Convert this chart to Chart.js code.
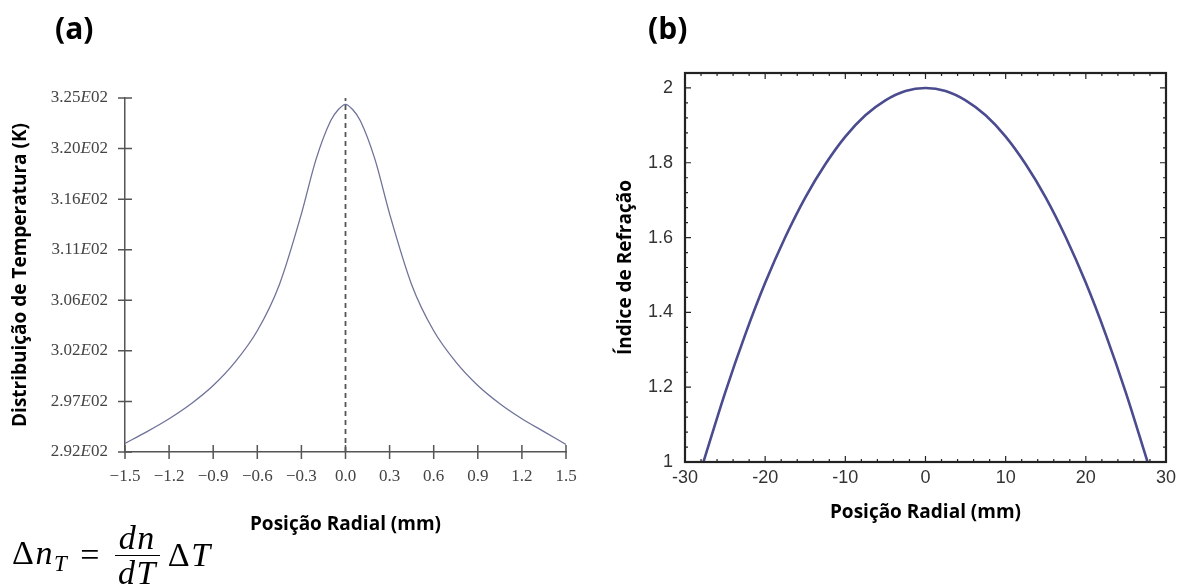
<!DOCTYPE html>
<html>
<head>
<meta charset="utf-8">
<script src="https://cdn.jsdelivr.net/npm/chart.js@4.4.1/dist/chart.umd.min.js"></script>
<style>
  body { margin: 0; background: #fff; }
  #wrap { position: relative; width: 1188px; height: 586px; overflow: hidden; }
  canvas { position: absolute; top: 0; }
  .panel { position: absolute; top: 7px; font: bold 30px "Open Sans", sans-serif; }
  #formula { position: absolute; left: 12px; top: 521px; font-family: "Liberation Serif", serif; font-size: 34px; display: flex; align-items: center; white-space: nowrap; letter-spacing: 1.5px; }
  #formula i { font-style: italic; }
  .frac { display: inline-flex; flex-direction: column; align-items: center; margin: 0 8px 0 14px; line-height: 0.98; }
  .frac .num { border-bottom: 1.4px solid #000; padding: 0 4px 1px; }
  sub { font-size: 23px; vertical-align: -7px; }
</style>
</head>
<body>
<div id="wrap">
  <canvas id="left" width="600" height="586" style="left:0"></canvas>
  <canvas id="right" width="588" height="586" style="left:600px"></canvas>
  <div class="panel" style="left:55px">(a)</div>
  <div class="panel" style="left:648px">(b)</div>
  <div id="formula">
    <span>Δ<i>n</i><sub><i>T</i></sub></span><span style="margin-left:12px">=</span>
    <span class="frac"><span class="num"><i>dn</i></span><span><i>dT</i></span></span>
    <span>Δ<i>T</i></span>
  </div>
</div>
<script>
// (a) temperature distribution
const tempX = [-1.5, -1.35, -1.2, -1.05, -0.9, -0.75, -0.6, -0.45, -0.3, -0.2, -0.1, -0.05, 0,
               0.05, 0.1, 0.2, 0.3, 0.45, 0.6, 0.75, 0.9, 1.05, 1.2, 1.35, 1.5];
const tempY = [292.8, 293.9, 295.1, 296.5, 298.2, 300.4, 303.3, 307.6, 314.2, 319.3, 322.9, 323.9, 324.4,
               323.9, 322.9, 319.3, 314.2, 307.6, 303.3, 300.4, 298.2, 296.5, 295.1, 293.9, 292.7];
const tempXTicks = [-1.5, -1.2, -0.9, -0.6, -0.3, 0, 0.3, 0.6, 0.9, 1.2, 1.5];
const tempYTickLabels = ["2.92E02", "2.97E02", "3.02E02", "3.06E02", "3.11E02", "3.16E02", "3.20E02", "3.25E02"];
const tempMin = 292, tempMax = 325;

// (b) refractive index
const radX = [-27.7, -25, -22.5, -20, -17.5, -15, -12.5, -10, -7.5, -5, -2.5, 0,
              2.5, 5, 7.5, 10, 12.5, 15, 17.5, 20, 22.5, 25, 27.7];
const indexY = [1.0, 1.185, 1.34, 1.479, 1.601, 1.707, 1.796, 1.87, 1.927, 1.967, 1.992, 2.0,
                1.992, 1.967, 1.927, 1.87, 1.796, 1.707, 1.601, 1.479, 1.34, 1.185, 1.0];
const radXTicks = [-30, -20, -10, 0, 10, 20, 30];
const indexYTicks = [1, 1.2, 1.4, 1.6, 1.8, 2];

const titleFont = { family: "'Open Sans', sans-serif", size: 19, weight: "bold" };

// crossing tick marks + italic E labels for chart (a)
const leftDeco = {
  id: "leftDeco",
  afterDraw(chart) {
    const { ctx, chartArea: a, scales: { x, y } } = chart;
    ctx.save();
    ctx.strokeStyle = "#555";
    ctx.lineWidth = 1.5;
    ctx.beginPath();
    x.ticks.forEach((t) => {
      const px = x.getPixelForValue(t.value);
      ctx.moveTo(px, a.bottom - 7);
      ctx.lineTo(px, a.bottom + 7);
    });
    y.ticks.forEach((t) => {
      const py = y.getPixelForValue(t.value);
      ctx.moveTo(a.left - 7, py);
      ctx.lineTo(a.left + 7, py);
    });
    ctx.stroke();
    // y labels: 3.25E02 with italic E
    ctx.fillStyle = "#444";
    ctx.textBaseline = "middle";
    const fam = "'Liberation Serif', serif";
    y.ticks.forEach((t, i) => {
      const lab = tempYTickLabels[i];
      const parts = [[lab.slice(0, 4), "17px " + fam], ["E", "italic 17px " + fam], [lab.slice(5), "17px " + fam]];
      let w = 0;
      parts.forEach((p) => { ctx.font = p[1]; w += ctx.measureText(p[0]).width; });
      let cx = a.left - 17 - w;
      const py = y.getPixelForValue(t.value);
      ctx.textAlign = "left";
      parts.forEach((p) => { ctx.font = p[1]; ctx.fillText(p[0], cx, py); cx += ctx.measureText(p[0]).width; });
    });
    ctx.restore();
  },
};

new Chart(document.getElementById("left"), {
  type: "line",
  data: {
    datasets: [
      {
        data: tempX.map((v, i) => ({ x: v, y: tempY[i] })),
        borderColor: "#6f7399",
        borderWidth: 1.3,
        pointRadius: 0,
        cubicInterpolationMode: "monotone",
      },
      {
        data: [{ x: 0, y: tempMin }, { x: 0, y: tempMax }],
        borderColor: "#555",
        borderWidth: 1.8,
        borderDash: [5, 4],
        pointRadius: 0,
        tension: 0,
      },
    ],
  },
  options: {
    responsive: false,
    animation: false,
    devicePixelRatio: 1,
    layout: { padding: { left: 0, top: 98, right: 34, bottom: 41 } },
    plugins: { legend: { display: false }, tooltip: { enabled: false } },
    scales: {
      x: {
        type: "linear",
        min: -1.5,
        max: 1.5,
        afterBuildTicks: (s) => { s.ticks = tempXTicks.map((v) => ({ value: v })); },
        afterFit: (s) => { s.height = 93; },
        grid: { display: false, drawTicks: false },
        border: { display: true, color: "#555", width: 1.5 },
        ticks: {
          padding: 14,
          color: "#444",
          font: { family: "'Liberation Serif', serif", size: 17 },
          callback: (v) => v.toFixed(1).replace("-", "\u2212"),
        },
        title: { display: true, text: "Posição Radial (mm)", color: "#000", font: titleFont, padding: { top: 0, bottom: 9 } },
      },
      y: {
        min: tempMin,
        max: tempMax,
        afterBuildTicks: (s) => {
          s.ticks = tempYTickLabels.map((l, i) => ({ value: tempMin + (i * (tempMax - tempMin)) / (tempYTickLabels.length - 1) }));
        },
        afterFit: (s) => { s.width = 125; },
        grid: { display: false, drawTicks: false },
        border: { display: true, color: "#555", width: 1.5 },
        ticks: { display: false },
        title: { display: true, text: "Distribuição de Temperatura (K)", color: "#000", font: titleFont, padding: { top: 9, bottom: 0 } },
      },
    },
  },
  plugins: [leftDeco],
});

// frame + inward ticks for chart (b)
const rightDeco = {
  id: "rightDeco",
  afterDraw(chart) {
    const { ctx, chartArea: a, scales: { x, y } } = chart;
    ctx.save();
    ctx.strokeStyle = "#222";
    ctx.lineWidth = 1.2;
    ctx.beginPath();
    for (let i = 0; i < radXTicks.length; i++) {
      const px = x.getPixelForValue(radXTicks[i]);
      ctx.moveTo(px, a.bottom); ctx.lineTo(px, a.bottom - 6);
      ctx.moveTo(px, a.top); ctx.lineTo(px, a.top + 6);
      if (i < radXTicks.length - 1) {
        const step = (radXTicks[i + 1] - radXTicks[i]) / 5;
        for (let k = 1; k < 5; k++) {
          const mx = x.getPixelForValue(radXTicks[i] + k * step);
          ctx.moveTo(mx, a.bottom); ctx.lineTo(mx, a.bottom - 3);
          ctx.moveTo(mx, a.top); ctx.lineTo(mx, a.top + 3);
        }
      }
    }
    for (let i = 0; i < indexYTicks.length; i++) {
      const py = y.getPixelForValue(indexYTicks[i]);
      ctx.moveTo(a.left, py); ctx.lineTo(a.left + 6, py);
      ctx.moveTo(a.right, py); ctx.lineTo(a.right - 6, py);
      if (i < indexYTicks.length - 1) {
        const step = (indexYTicks[i + 1] - indexYTicks[i]) / 5;
        for (let k = 1; k < 5; k++) {
          const my = y.getPixelForValue(indexYTicks[i] + k * step);
          ctx.moveTo(a.left, my); ctx.lineTo(a.left + 3, my);
          ctx.moveTo(a.right, my); ctx.lineTo(a.right - 3, my);
        }
      }
    }
    ctx.stroke();
    ctx.lineWidth = 2.2;
    ctx.strokeRect(a.left, a.top, a.right - a.left, a.bottom - a.top);
    ctx.restore();
  },
};

new Chart(document.getElementById("right"), {
  type: "line",
  data: {
    datasets: [
      {
        data: radX.map((v, i) => ({ x: v, y: indexY[i] })),
        borderColor: "#4b4b8f",
        borderWidth: 2.6,
        pointRadius: 0,
        cubicInterpolationMode: "monotone",
      },
    ],
  },
  options: {
    responsive: false,
    animation: false,
    devicePixelRatio: 1,
    layout: { padding: { left: 0, top: 73, right: 22, bottom: 59 } },
    plugins: { legend: { display: false }, tooltip: { enabled: false } },
    scales: {
      x: {
        type: "linear",
        min: -30,
        max: 30,
        afterBuildTicks: (s) => { s.ticks = radXTicks.map((v) => ({ value: v })); },
        afterFit: (s) => { s.height = 65; },
        grid: { display: false, drawTicks: false },
        border: { display: false },
        ticks: { padding: 5, color: "#333", font: { family: "'Liberation Sans', sans-serif", size: 18 } },
        title: { display: true, text: "Posição Radial (mm)", color: "#000", font: titleFont, padding: { top: 0, bottom: 3 } },
      },
      y: {
        min: 1,
        max: 2.04,
        afterBuildTicks: (s) => { s.ticks = indexYTicks.map((v) => ({ value: v })); },
        afterFit: (s) => { s.width = 85; },
        grid: { display: false, drawTicks: false },
        border: { display: false },
        ticks: { padding: 12, color: "#333", font: { family: "'Liberation Sans', sans-serif", size: 18 }, callback: (v) => String(v) },
        title: { display: true, text: "Índice de Refração", color: "#000", font: titleFont, padding: { top: 14, bottom: 0 } },
      },
    },
  },
  plugins: [rightDeco],
});
</script>
</body>
</html>
